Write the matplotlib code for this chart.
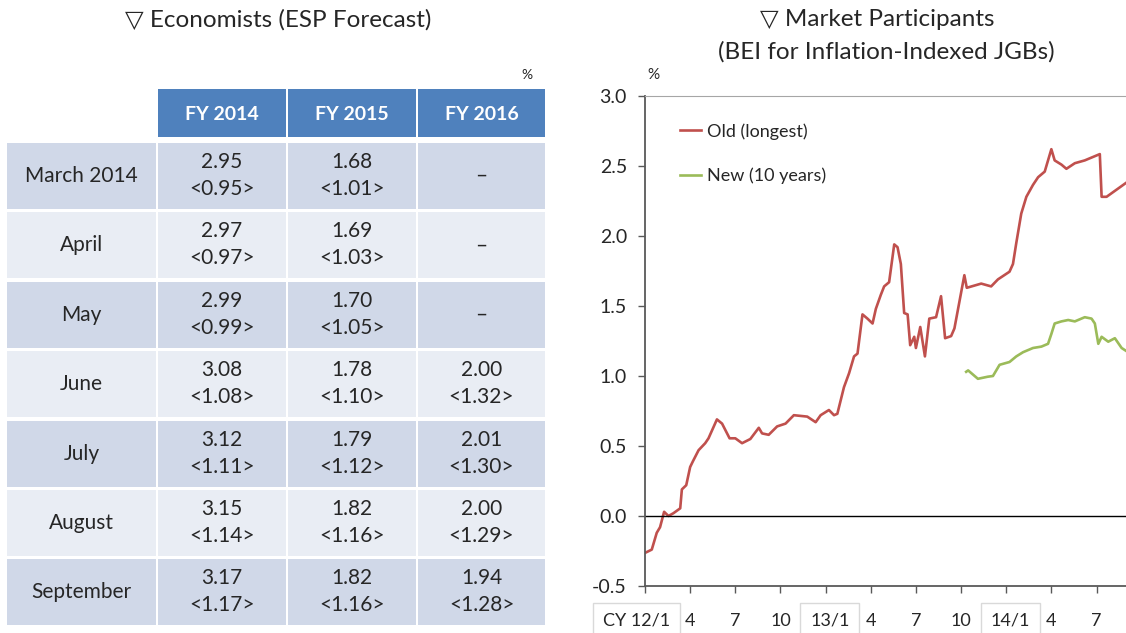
import matplotlib
matplotlib.use("Agg")
import matplotlib.pyplot as plt
from matplotlib.patches import Rectangle

plt.rcParams['font.family'] = ['Lato', 'DejaVu Sans']

# ---- table data (ESP forecast, %) ----
col_labels = ["FY 2014", "FY 2015", "FY 2016"]
row_labels = ["March 2014", "April", "May", "June", "July", "August", "September"]
fy2014 = [2.95, 2.97, 2.99, 3.08, 3.12, 3.15, 3.17]
fy2014_ex = [0.95, 0.97, 0.99, 1.08, 1.11, 1.14, 1.17]
fy2015 = [1.68, 1.69, 1.70, 1.78, 1.79, 1.82, 1.82]
fy2015_ex = [1.01, 1.03, 1.05, 1.10, 1.12, 1.16, 1.16]
fy2016 = [None, None, None, 2.00, 2.01, 2.00, 1.94]
fy2016_ex = [None, None, None, 1.32, 1.30, 1.29, 1.28]

# ---- BEI data (months since Jan 2012, %) ----
old_m = [0.07, 0.45, 0.78, 1.0, 1.27, 1.56, 1.89, 2.34, 2.45, 2.74, 3.0, 3.18, 3.56,
         4.0, 4.22, 4.78, 5.12, 5.62, 6.0, 6.45, 7.0, 7.56, 7.78, 8.22, 8.78, 9.34,
         9.89, 10.78, 11.34, 11.67, 12.22, 12.56, 12.78, 13.22, 13.56, 13.89, 14.12,
         14.45, 14.78, 15.12, 15.34, 15.67, 15.89, 16.22, 16.56, 16.78, 17.0, 17.22,
         17.45, 17.62, 17.89, 18.0, 18.29, 18.6, 18.89, 19.34, 19.67, 19.94, 20.34,
         20.56, 20.89, 21.22, 21.38, 22.34, 23.0, 23.45, 24.22, 24.45, 24.67, 25.0,
         25.34, 25.78, 26.12, 26.56, 26.78, 27.0, 27.22, 27.67, 28.0, 28.56, 29.22,
         30.22, 30.34, 30.67, 32.1, 32.5]
old_v = [-0.26, -0.24, -0.12, -0.08, 0.03, 0.0, 0.02, 0.055, 0.19, 0.22, 0.35, 0.39, 0.47,
         0.52, 0.555, 0.69, 0.66, 0.555, 0.555, 0.52, 0.55, 0.63, 0.59, 0.58, 0.64, 0.66,
         0.72, 0.71, 0.67, 0.72, 0.757, 0.72, 0.73, 0.92, 1.02, 1.14, 1.16,
         1.44, 1.41, 1.375, 1.48, 1.58, 1.64, 1.67, 1.94, 1.92, 1.80, 1.45,
         1.44, 1.22, 1.28, 1.20, 1.35, 1.14, 1.41, 1.42, 1.57, 1.27, 1.285,
         1.34, 1.53, 1.72, 1.63, 1.66, 1.64, 1.69, 1.745, 1.80, 1.95, 2.16,
         2.28, 2.365, 2.42, 2.46, 2.54, 2.62, 2.54, 2.51, 2.48, 2.52, 2.54,
         2.585, 2.28, 2.28, 2.39, 2.42]
new_m = [21.34, 21.47, 22.12, 22.78, 23.12, 23.56, 24.22, 24.67, 25.12, 25.78, 26.34,
         26.78, 27.0, 27.22, 27.67, 28.12, 28.56, 29.22, 29.67, 29.89, 30.12, 30.34,
         30.78, 31.22, 31.67, 32.1, 32.5]
new_v = [1.03, 1.04, 0.98, 0.995, 1.0, 1.08, 1.10, 1.14, 1.17, 1.20, 1.21,
         1.23, 1.30, 1.375, 1.39, 1.40, 1.39, 1.42, 1.41, 1.375, 1.23, 1.28,
         1.245, 1.27, 1.20, 1.17, 1.15]
tick_m = [0, 3, 6, 9, 12, 15, 18, 21, 24, 27, 30]
tick_lbl = ["CY 12/1", "4", "7", "10", "13/1", "4", "7", "10", "14/1", "4", "7"]

W, H = 1126, 633
fig = plt.figure(figsize=(W / 100, H / 100), dpi=100)

# ---------- left: table drawn in pixel coordinates ----------
tab = fig.add_axes([0, 0, 1, 1])
tab.set_xlim(0, W)
tab.set_ylim(H, 0)
tab.axis('off')

col_x = [7, 158, 288, 418]
col_w = [149, 128, 128, 127]
head_top, head_h = 89, 48
row_top, row_step, row_h = 143, 69.4, 66
blue, band1, band2 = '#4f81bd', '#d0d8e8', '#e9edf4'
txt = '#262626'

tab.text(278, 20, "▽ Economists (ESP Forecast)", ha='center', va='center', fontsize=17.5, color=txt)
tab.text(527, 75, "%", ha='center', va='center', fontsize=10, color=txt)
for j, lab in enumerate(col_labels):
    x0 = col_x[j + 1]
    tab.add_patch(Rectangle((x0, head_top), col_w[j + 1], head_h, color=blue, lw=0))
    tab.text(x0 + col_w[j + 1] / 2, head_top + head_h / 2 + 1, lab, ha='center', va='center',
             fontsize=14, fontweight='bold', color='white')

cols = [(fy2014, fy2014_ex), (fy2015, fy2015_ex), (fy2016, fy2016_ex)]
for i, rl in enumerate(row_labels):
    y0 = row_top + i * row_step
    fc = band1 if i % 2 == 0 else band2
    for j in range(4):
        tab.add_patch(Rectangle((col_x[j], y0), col_w[j], row_h, color=fc, lw=0))
    cy = y0 + row_h / 2
    tab.text(col_x[0] + col_w[0] / 2, cy, rl, ha='center', va='center', fontsize=15, color=txt)
    for j, (v, ex) in enumerate(cols):
        xc = col_x[j + 1] + col_w[j + 1] / 2
        if v[i] is None:
            tab.text(xc, cy, "–", ha='center', va='center', fontsize=15, color=txt)
        else:
            tab.text(xc, cy - 14, f"{v[i]:.2f}", ha='center', va='center', fontsize=15, color=txt)
            tab.text(xc, cy + 13, f"<{ex[i]:.2f}>", ha='center', va='center', fontsize=15, color=txt)

# ---------- right: BEI chart ----------
x_left, x_right = 645, W
ax = fig.add_axes([x_left / W, 1 - 586 / H, (x_right - x_left) / W, 490 / H])
ax.plot(old_m, old_v, color='#c0504d', lw=1.9, label="Old (longest)")
ax.plot(new_m, new_v, color='#9bbb59', lw=1.9, label="New (10 years)")
ax.axhline(0, color='black', lw=1)
ax.set_xlim(0, (x_right - x_left) / 15.05)
ax.set_ylim(-0.5, 3.0)
ax.set_yticks([-0.5, 0, 0.5, 1.0, 1.5, 2.0, 2.5, 3.0])
ax.set_yticklabels([f"{t:.1f}" for t in ax.get_yticks()], fontsize=14, color=txt)
ax.tick_params(axis='y', direction='out', length=5, width=1, color='#595959', pad=8)
ax.set_xticks(tick_m)
ax.set_xticklabels([])
ax.tick_params(axis='x', direction='out', length=5, width=1, color='#595959')
for sp in ['left', 'bottom']:
    ax.spines[sp].set_color('#595959')
    ax.spines[sp].set_linewidth(1.3)
ax.spines['top'].set_color('#a6a6a6')
ax.spines['right'].set_visible(False)

for m, lbl in zip(tick_m, tick_lbl):
    box = None
    dx = 0
    if '/' in lbl:
        box = dict(boxstyle='square,pad=0.55', fc='white', ec='#d9d9d9', lw=1)
        dx = -6 if lbl.startswith('CY') else 3
    ax.annotate(lbl, xy=(m, 0), xycoords=('data', 'axes fraction'), xytext=(dx, -25),
                textcoords='offset points', ha='center', va='center', fontsize=13,
                color=txt, bbox=box, annotation_clip=False)

ax.legend(loc='upper left', bbox_to_anchor=(0.072, 0.945), frameon=False, fontsize=13,
          handlelength=1.2, handletextpad=0.3, labelspacing=1.55, borderpad=0,
          borderaxespad=0, labelcolor=txt)

fig.text(877 / W, 1 - 20 / H, "▽ Market Participants", ha='center', va='center', fontsize=17.5, color=txt)
fig.text(886 / W, 1 - 52 / H, "(BEI for Inflation-Indexed JGBs)", ha='center', va='center',
         fontsize=17.5, color=txt)
fig.text(653 / W, 1 - 75 / H, "%", ha='center', va='center', fontsize=11, color=txt)

fig.savefig("out.png", dpi=100)
